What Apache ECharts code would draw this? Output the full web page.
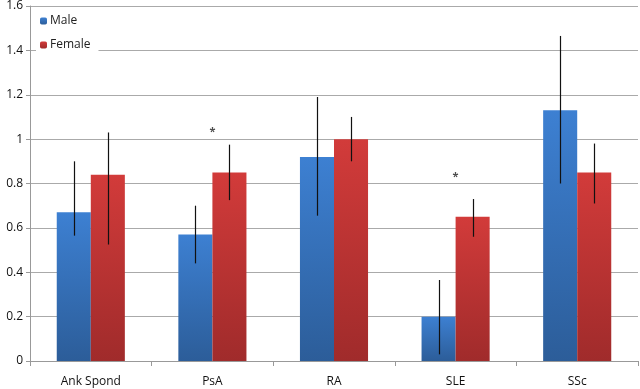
<!DOCTYPE html>
<html>
<head>
<meta charset="utf-8">
<script src="https://cdn.jsdelivr.net/npm/echarts@6/dist/echarts.min.js"></script>
<style>
html, body { margin: 0; padding: 0; background: #fff; }
#main { width: 640px; height: 389px; }
</style>
</head>
<body>
<div id="main"></div>
<script>
var categories = ['Ank Spond', 'PsA', 'RA', 'SLE', 'SSc'];
var maleValues = [0.67, 0.57, 0.92, 0.20, 1.13];
var femaleValues = [0.84, 0.85, 1.00, 0.65, 0.85];
// error bar low / high
var maleLow = [0.565, 0.44, 0.655, 0.03, 0.80];
var maleHigh = [0.90, 0.70, 1.19, 0.365, 1.465];
var femaleLow = [0.525, 0.725, 0.90, 0.56, 0.71];
var femaleHigh = [1.03, 0.975, 1.10, 0.73, 0.98];
// significance markers: [category, y]
var stars = [[1, 1.04], [3, 0.84]];

var chartDom = document.getElementById('main');
var myChart = echarts.init(chartDom);
var option;

var BAR_W = 0.28;

function errData(low, high, side) {
    return low.map(function (l, i) { return [i, l, high[i], side]; });
}

function renderError(params, api) {
    var cat = api.value(0);
    var side = api.value(3);
    var bandW = api.size([1, 0])[0];
    var p1 = api.coord([cat, api.value(1)]);
    var p2 = api.coord([cat, api.value(2)]);
    var x = Math.round(p1[0] + side * bandW * BAR_W / 2) + 0.5;
    return {
        type: 'line',
        shape: { x1: x, y1: p1[1], x2: x, y2: p2[1] },
        style: { stroke: '#111', lineWidth: 1.2 }
    };
}

function vgrad(top, bottom) {
    return new echarts.graphic.LinearGradient(0, 0, 0, 1, [
        { offset: 0, color: top },
        { offset: 1, color: bottom }
    ]);
}

option = {
    animation: false,
    textStyle: { fontFamily: 'Open Sans' },
    grid: { left: 30, right: 2, top: 5, bottom: 28 },
    legend: {
        data: ['Male', 'Female'],
        orient: 'vertical',
        left: 36,
        top: 11,
        itemWidth: 7,
        itemHeight: 7,
        itemGap: 12,
        padding: [4, 8, 2, 4],
        backgroundColor: '#fff',
        textStyle: { fontSize: 12, color: '#222', padding: [0, 0, 0, -2] }
    },
    xAxis: {
        type: 'category',
        data: categories,
        axisLine: { lineStyle: { color: '#999', width: 1 } },
        axisTick: { show: true, length: 5, lineStyle: { color: '#999' } },
        axisLabel: { color: '#111', fontSize: 12, margin: 15 }
    },
    yAxis: {
        type: 'value',
        min: 0,
        max: 1.6,
        interval: 0.2,
        axisLine: { show: true, lineStyle: { color: '#999', width: 1 } },
        axisTick: { show: true, length: 4, lineStyle: { color: '#999' } },
        axisLabel: { color: '#111', fontSize: 12, margin: 7 },
        splitLine: { lineStyle: { color: '#aaa', width: 1 } }
    },
    series: [
        {
            name: 'Male',
            type: 'bar',
            data: maleValues,
            barWidth: (BAR_W * 100) + '%',
            barGap: '0%',
            itemStyle: { color: vgrad('#3d80d2', '#2c5d99') }
        },
        {
            name: 'Female',
            type: 'bar',
            data: femaleValues,
            barWidth: (BAR_W * 100) + '%',
            itemStyle: { color: vgrad('#d23b3a', '#a02b2b') }
        },
        {
            type: 'custom',
            renderItem: renderError,
            data: errData(maleLow, maleHigh, -1),
            z: 10,
            silent: true
        },
        {
            type: 'custom',
            renderItem: renderError,
            data: errData(femaleLow, femaleHigh, 1),
            z: 10,
            silent: true
        },
        {
            type: 'scatter',
            data: stars,
            symbol: 'circle',
            symbolSize: 0,
            silent: true,
            label: {
                show: true,
                formatter: '*',
                position: 'inside',
                color: '#222',
                fontSize: 11,
                fontWeight: 'bold',
                offset: [0, 2]
            }
        }
    ]
};

option && myChart.setOption(option);
</script>
</body>
</html>
